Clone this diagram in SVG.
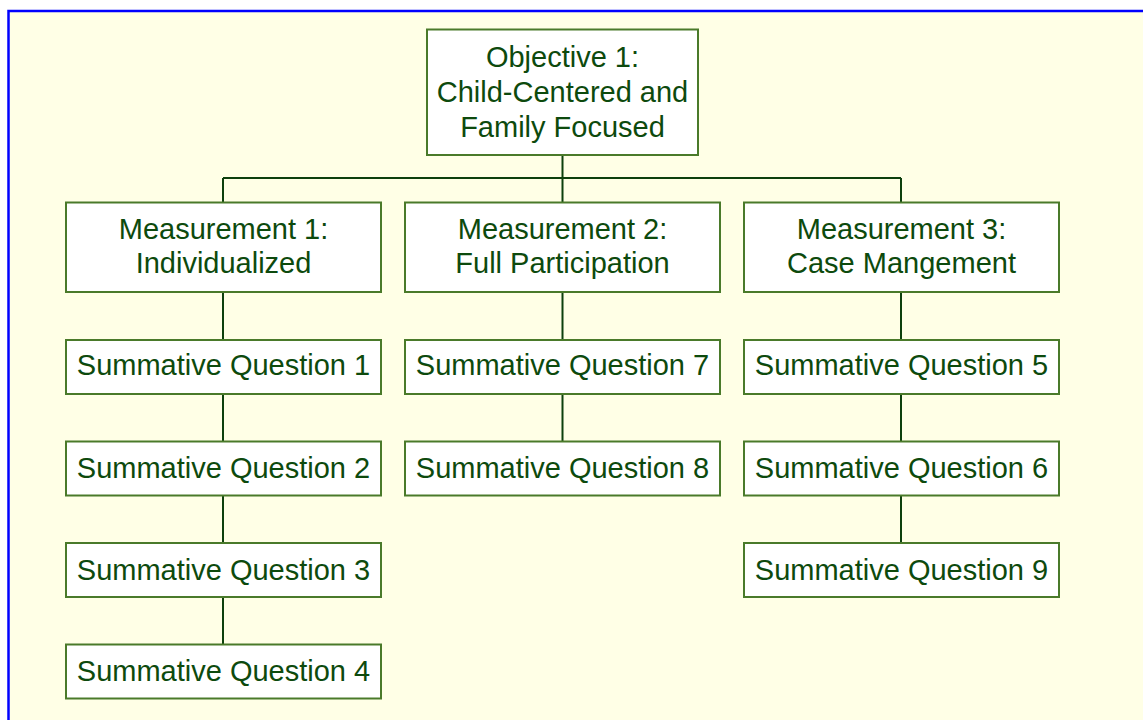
<svg xmlns="http://www.w3.org/2000/svg" width="1143" height="720" viewBox="0 0 1143 720">
  <style>
    .box { fill: #ffffff; stroke: #4a7a2a; stroke-width: 2; }
    .lbl { font-family: "Liberation Sans", Arial, sans-serif; font-size: 29px; fill: #0d4a0d; text-anchor: middle; }
    .link { fill: none; stroke: #0d400d; stroke-width: 2; }
  </style>
  <!-- page background and frame -->
  <rect x="0" y="0" width="1143" height="720" fill="#ffffff"/>
  <rect x="8.5" y="11" width="1150" height="730" fill="#ffffe6" stroke="#0000ff" stroke-width="2.5"/>

  <g id="connectors">
    <path class="link" d="M562.5 155 V178 M223 178 H901 M223 178 V202 M562.5 178 V202 M901 178 V202"/>
    <path class="link" d="M223 292 V340 M223 394 V441 M223 496 V543 M223 597 V644"/>
    <path class="link" d="M562.5 292 V340 M562.5 394 V441"/>
    <path class="link" d="M901 292 V340 M901 394 V441 M901 496 V543"/>
  </g>

  <g id="objective1">
    <rect class="box" x="427" y="29.5" width="271" height="125.5"/>
    <text class="lbl" x="562.5" y="66.7">Objective 1:</text>
    <text class="lbl" x="562.5" y="101.7">Child-Centered and</text>
    <text class="lbl" x="562.5" y="136.7">Family Focused</text>
  </g>

  <g id="measurement1">
    <rect class="box" x="66" y="202.5" width="315" height="89.5"/>
    <text class="lbl" x="223.5" y="239">Measurement 1:</text>
    <text class="lbl" x="223.5" y="273.3">Individualized</text>
  </g>
  <g id="measurement2">
    <rect class="box" x="405" y="202.5" width="315" height="89.5"/>
    <text class="lbl" x="562.5" y="239">Measurement 2:</text>
    <text class="lbl" x="562.5" y="273.3">Full Participation</text>
  </g>
  <g id="measurement3">
    <rect class="box" x="744" y="202.5" width="315" height="89.5"/>
    <text class="lbl" x="901.5" y="239">Measurement 3:</text>
    <text class="lbl" x="901.5" y="273.3">Case Mangement</text>
  </g>

  <g id="sq1"><rect class="box" x="66" y="340" width="315" height="54"/><text class="lbl" x="223.5" y="375">Summative Question 1</text></g>
  <g id="sq2"><rect class="box" x="66" y="441.5" width="315" height="54"/><text class="lbl" x="223.5" y="478.3">Summative Question 2</text></g>
  <g id="sq3"><rect class="box" x="66" y="543" width="315" height="54"/><text class="lbl" x="223.5" y="579.8">Summative Question 3</text></g>
  <g id="sq4"><rect class="box" x="66" y="644.5" width="315" height="54"/><text class="lbl" x="223.5" y="681.3">Summative Question 4</text></g>

  <g id="sq7"><rect class="box" x="405" y="340" width="315" height="54"/><text class="lbl" x="562.5" y="375">Summative Question 7</text></g>
  <g id="sq8"><rect class="box" x="405" y="441.5" width="315" height="54"/><text class="lbl" x="562.5" y="478.3">Summative Question 8</text></g>

  <g id="sq5"><rect class="box" x="744" y="340" width="315" height="54"/><text class="lbl" x="901.5" y="375">Summative Question 5</text></g>
  <g id="sq6"><rect class="box" x="744" y="441.5" width="315" height="54"/><text class="lbl" x="901.5" y="478.3">Summative Question 6</text></g>
  <g id="sq9"><rect class="box" x="744" y="543" width="315" height="54"/><text class="lbl" x="901.5" y="579.8">Summative Question 9</text></g>
</svg>
